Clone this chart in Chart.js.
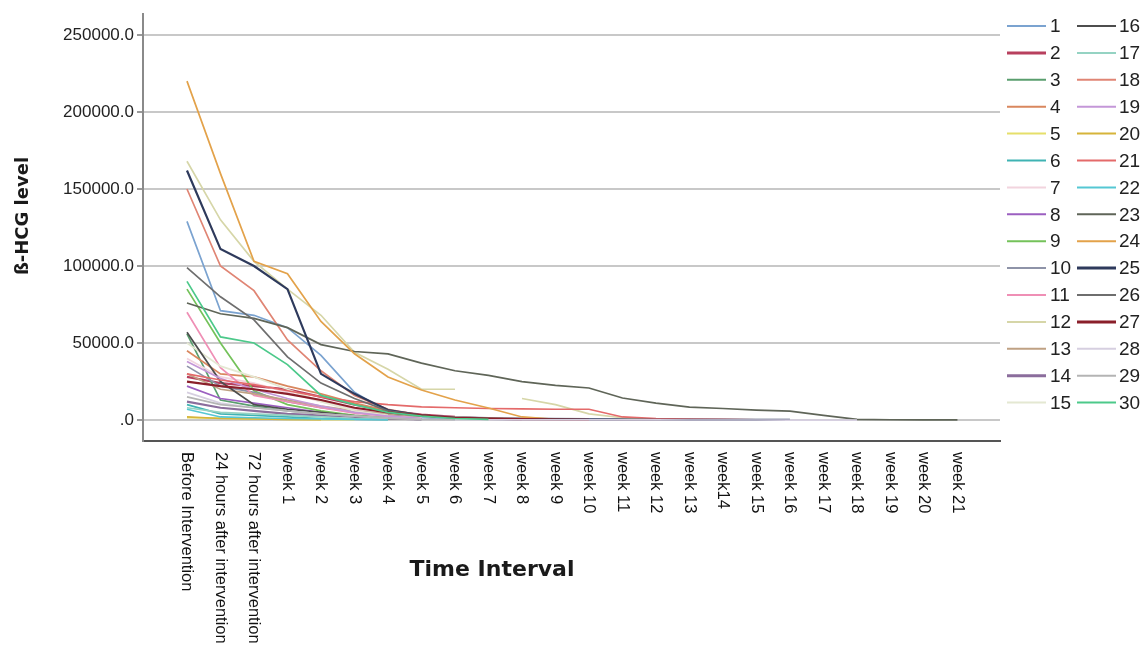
<!DOCTYPE html>
<html><head><meta charset="utf-8">
<script src="https://cdn.jsdelivr.net/npm/chart.js@4.4.0/dist/chart.umd.min.js"></script>
<style>html,body{margin:0;padding:0;background:#fff;overflow:hidden}</style>
</head><body>
<canvas id="c" width="1147" height="657" style="width:1147px;height:657px;display:block"></canvas>
<script>
const categories = ["Before Intervention","24 hours after intervention","72 hours after intervention",
 "week 1","week 2","week 3","week 4","week 5","week 6","week 7","week 8","week 9","week 10",
 "week 11","week 12","week 13","week14","week 15","week 16","week 17","week 18","week 19","week 20","week 21"];
const yTicks = [0, 50000, 100000, 150000, 200000, 250000];
const seriesNames = ["1","2","3","4","5","6","7","8","9","10","11","12","13","14","15",
 "16","17","18","19","20","21","22","23","24","25","26","27","28","29","30"];

const s1  = [129000, 71000, 68000, 60000, 42000, 18000, 5000, 1500, 500];
const s2  = [28000, 24000, 22000, 20000, 15000, 10000, 6000, 3500, 2000, 1000, 300];
const s3  = [56000, 13000, 9000, 6000, 4000, 2500, 1500, 800];
const s4  = [45000, 30000, 28000, 22000, 17000, 11000, 6000, 3000, 1500, 600];
const s5  = [1500, 1200, 800, 500, 300, 200];
const s6  = [10000, 4000, 3000, 2000, 1000, 600, 300];
const s7  = [40000, 28000, 24000, 18000, 12000, 7000, 3500, 1500];
const s8  = [22000, 14000, 11000, 8000, 5000, 3000, 1500, 700];
const s9  = [85000, 50000, 19000, 10000, 6000, 3000, 1500, 800];
const s10 = [35000, 22000, 18000, 12000, 8000, 5500, 3500, 2500, 2000, 1500, 1200, 1000, 800, 600, 500, 400, 300, 200, 100];
const s11 = [70000, 34000, 16000, 12000, 8000, 4500, 2500, 1000];
const s12 = [168000, 130000, 103000, 85000, 68000, 44000, 33000, 20000, 20000, null, 14000, 10000, 4000, 1500, 500];
const s13 = [30000, 20000, 17000, 13000, 9000, 6000, 4000, 2500, 1800, 1200, 800, 400, 200, 100];
const s14 = [12000, 8000, 6000, 4000, 3000, 2000, 1000, 500];
const s15 = [50000, 35000, 28000, 20000, 12000, 6000, 3000];
const s16 = [57000, 25000, 10000, 7000, 5000, 2500, 1000, 500];
const s17 = [8000, 5000, 4000, 3000, 2000, 1000, 500];
const s18 = [150000, 100000, 84000, 52000, 32000, 16000, 7000, 3000, 1500, 800, 500, 300, 200, 150, 100, 80, 50];
const s19 = [38000, 27000, 20000, 14000, 9000, 5000, 2500, 1000];
const s20 = [2000, 1000, 700, 500, 300];
const s21 = [30000, 26000, 23000, 19000, 15000, 12000, 10000, 8500, 8000, 7500, 7200, 7000, 7000, 2000, 1000, 600, 400, 200];
const s22 = [7000, 2000, 1500, 1000, 700, 400, 200];
const s23 = [76000, 69000, 66000, 60000, 49000, 44500, 43000, 37000, 32000, 29000, 25000, 22500, 20800, 14300, 11000, 8400, 7500, 6500, 5800, 3000, 500, 200, 100, 50];
const s24 = [220000, 160000, 103000, 95000, 64000, 43000, 28000, 19500, 13000, 7800, 2000, 500];
const s25 = [162000, 111000, 100000, 85000, 30000, 17000, 6500, 3000, 1500, 800, 500, 400, 300, 250, 200, 150, 120, 100, 80];
const s26 = [99000, 80000, 65000, 41000, 24000, 14000, 6000, 3000, 1500, 800];
const s27 = [25000, 22000, 20000, 17000, 13000, 8000, 5000, 3000, 1500, 1000, 600, 300, 100];
const s28 = [18000, 11000, 8000, 6000, 4000, 2500, 1200, 500, 300, 200, 150, 100, 80, 60, 50, 40, 30, 20, 10, 5, 0];
const s29 = [15000, 10000, 8000, 6000, 4000, 2500, 1200, 500, 300];
const s30 = [90000, 54000, 50000, 36000, 16000, 10000, 5000, 2500, 1000, 500];

const seriesValues = [s1,s2,s3,s4,s5,s6,s7,s8,s9,s10,s11,s12,s13,s14,s15,s16,s17,s18,s19,s20,s21,s22,s23,s24,s25,s26,s27,s28,s29,s30];

const seriesColors = ['#7ba3d0','#b8405e','#5a9e6e','#d9875e','#e6df6a','#3fb3b3','#f2d4de','#9b5fc0','#74c25a','#8e93a8',
 '#ef8fb5','#d6d6a8','#bfa183','#8b6d9c','#e4e8d2','#4d4d4d','#95d3c3','#e08574','#c497d8','#d6b43a',
 '#e46a6a','#55c7d3','#5f6558','#e3a24a','#2e3a5c','#6e6e6e','#8a1f2a','#d6cfe0','#b4b4b4','#4cc98a'];
const thickSeries = ["2","14","25","27"];

const FONT = '"Liberation Sans", Arial, sans-serif';

const datasets = seriesValues.map((vals, k) => ({
  label: seriesNames[k],
  data: vals.map((v, i) => ({x: i, y: v})),
  borderColor: seriesColors[k],
  backgroundColor: seriesColors[k],
  borderWidth: thickSeries.includes(seriesNames[k]) ? 2.2 : 1.7,
  pointRadius: 0,
  tension: 0,
  spanGaps: false,
  fill: false
})).reverse();

const decor = {
  id: 'decor',
  afterDraw(chart) {
    const ctx = chart.ctx, xs = chart.scales.x;
    ctx.save();
    ctx.fillStyle = '#111';
    ctx.font = '16.5px ' + FONT;
    ctx.textAlign = 'left';
    ctx.textBaseline = 'middle';
    categories.forEach((c, i) => {
      const px = xs.getPixelForValue(i);
      ctx.save();
      ctx.translate(px, chart.chartArea.bottom + 11);
      ctx.rotate(Math.PI / 2);
      ctx.fillText(c, 0, 0);
      ctx.restore();
    });
    ctx.font = 'bold 22px "DejaVu Sans", sans-serif';
    ctx.textAlign = 'center';
    ctx.fillStyle = '#1a1a1a';
    ctx.fillText('Time Interval', 492, 570);
    ctx.save();
    ctx.translate(23, 216);
    ctx.rotate(-Math.PI / 2);
    ctx.font = 'bold 18px "DejaVu Sans", sans-serif';
    ctx.fillText('ß-HCG level', 0, 0);
    ctx.restore();
    ctx.font = '19px ' + FONT;
    ctx.textAlign = 'left';
    ctx.fillStyle = '#222';
    seriesNames.forEach((n, k) => {
      const col = k < 15 ? 0 : 1, row = k % 15;
      const y = 26 + row * 26.9;
      const x0 = col ? 1077 : 1007;
      ctx.strokeStyle = seriesColors[k];
      ctx.lineWidth = thickSeries.includes(n) ? 3 : 2;
      ctx.beginPath(); ctx.moveTo(x0, y); ctx.lineTo(x0 + 39, y); ctx.stroke();
      ctx.fillText(n, col ? 1119 : 1050, y + 1);
    });
    ctx.restore();
  }
};

new Chart(document.getElementById('c'), {
  type: 'line',
  data: { datasets },
  options: {
    responsive: false,
    animation: false,
    events: [],
    layout: { padding: { left: 0, top: 14, right: 147, bottom: 216 } },
    plugins: { legend: { display: false }, tooltip: { enabled: false } },
    scales: {
      x: {
        type: 'linear', min: -1.313, max: 24.27,
        ticks: { display: false },
        grid: { display: false },
        border: { display: true, color: '#555', width: 2 },
        afterFit(s) { s.height = 0; }
      },
      y: {
        type: 'linear', min: -13600, max: 263600,
        afterBuildTicks(s) { s.ticks = yTicks.map(v => ({ value: v })); },
        afterFit(s) { s.width = 143; },
        ticks: {
          callback: (v) => v === 0 ? '.0' : Number(v).toFixed(1),
          font: { size: 17, family: FONT }, color: '#222', padding: 3
        },
        grid: { color: '#c8c8c8', lineWidth: 2, tickLength: 6, tickColor: '#999', drawTicks: true },
        border: { display: true, color: '#8a8a8a', width: 2 }
      }
    }
  },
  plugins: [decor]
});
</script>
</body></html>
